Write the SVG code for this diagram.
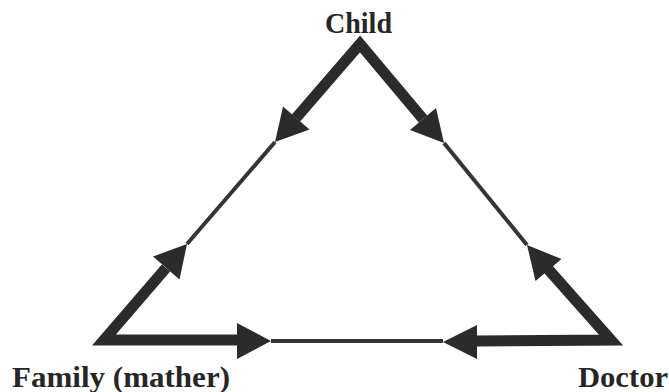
<svg xmlns="http://www.w3.org/2000/svg" width="669" height="392" viewBox="0 0 669 392">
<style>
.lbl{font-family:"Liberation Serif","Times New Roman",serif;font-weight:bold;fill:#262626}
.thick{fill:none;stroke:#2b2b2b;stroke-width:11;stroke-linejoin:miter;stroke-miterlimit:10}
.thin{fill:none;stroke:#353535;stroke-width:4}
.head{fill:#2b2b2b}
</style>
<rect width="669" height="392" fill="#ffffff"/>
<g id="connectors">
<path class="thick" d="M296,118 L360,44 L423,119"/>
<polygon class="head" points="275,142 309.5,129.5 283,106.5"/>
<polygon class="head" points="444,143 436,108 410,130"/>
<path class="thin" d="M275,142 L187,244"/>
<path class="thin" d="M444,143 L527,245"/>
<path class="thick" d="M166,268 L104,340 L239,340"/>
<polygon class="head" points="187,244 179.5,279.5 153,256.5"/>
<polygon class="head" points="271,341 237,323 237,359"/>
<path class="thin" d="M271,341 L443,341"/>
<path class="thick" d="M548,269 L611,340 L476,341"/>
<polygon class="head" points="527,245 561.5,259 535.5,281"/>
<polygon class="head" points="443,342 477,325 477,359"/>
</g>
<g id="child"><text class="lbl" x="325" y="33" font-size="29" textLength="67" lengthAdjust="spacingAndGlyphs">Child</text></g>
<g id="family"><text class="lbl" x="12" y="387" font-size="30" textLength="218" lengthAdjust="spacingAndGlyphs">Family (mather)</text></g>
<g id="doctor"><text class="lbl" x="578" y="387" font-size="30" textLength="90" lengthAdjust="spacingAndGlyphs">Doctor</text></g>
</svg>
